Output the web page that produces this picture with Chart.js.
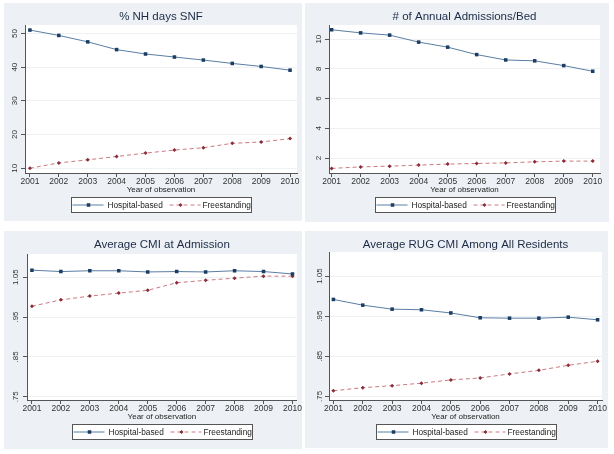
<!DOCTYPE html>
<html>
<head>
<meta charset="utf-8">
<script src="https://cdn.jsdelivr.net/npm/chart.js@4.4.0/dist/chart.umd.min.js"></script>
<style>
  body { margin: 0; background: #fff; width: 614px; height: 454px; position: relative; overflow: hidden; }
  .panel { position: absolute; background: #edf1f5; }
  .panel canvas { display: block; }
</style>
</head>
<body>
<div class="panel" id="p1"><canvas id="c1"></canvas></div>
<div class="panel" id="p2"><canvas id="c2"></canvas></div>
<div class="panel" id="p3"><canvas id="c3"></canvas></div>
<div class="panel" id="p4"><canvas id="c4"></canvas></div>
<script>
// data
const years = [2001, 2002, 2003, 2004, 2005, 2006, 2007, 2008, 2009, 2010];

const snfHosp = [51.0, 49.4, 47.5, 45.2, 43.9, 43.0, 42.1, 41.1, 40.2, 39.1];
const snfFree = [10.0, 11.6, 12.5, 13.5, 14.5, 15.4, 16.1, 17.4, 17.8, 18.8];

const admHosp = [10.63, 10.42, 10.27, 9.80, 9.46, 8.96, 8.60, 8.54, 8.22, 7.84];
const admFree = [1.31, 1.41, 1.46, 1.53, 1.60, 1.64, 1.68, 1.75, 1.80, 1.80];

const cmiHosp = [1.0675, 1.064, 1.066, 1.066, 1.063, 1.064, 1.063, 1.066, 1.064, 1.058];
const cmiFree = [0.977, 0.993, 1.0025, 1.010, 1.017, 1.036, 1.042, 1.0475, 1.0525, 1.0525];

const rugHosp = [0.9917, 0.9775, 0.9675, 0.966, 0.958, 0.946, 0.945, 0.945, 0.9475, 0.941];
const rugFree = [0.764, 0.7717, 0.7767, 0.783, 0.791, 0.796, 0.806, 0.815, 0.8275, 0.8375];

const snfTicks = [10, 20, 30, 40, 50];
const admTicks = [2, 4, 6, 8, 10];
const cmiTicks = [0.75, 0.85, 0.95, 1.05];
const cmiTickLabels = ['.75', '.85', '.95', '1.05'];

const seriesNames = ['Hospital-based', 'Freestanding'];
const xTitle = 'Year of observation';

// styles
const FONT = '"Liberation Sans", Arial, sans-serif';
const HOSP_LINE = '#5a7ea3', HOSP_MARK = '#1b3d63';
const FREE_LINE = '#cc7a80', FREE_MARK = '#8a2c38';
const AXIS = '#555';

// plugin: white plot region, title and the boxed Stata-like legend
const stataPlugin = {
  id: 'stata',
  beforeDraw(chart) {
    const { ctx, chartArea: a } = chart;
    ctx.save();
    ctx.fillStyle = '#fff';
    ctx.fillRect(a.left, a.top, a.right - a.left, a.bottom - a.top);
    ctx.restore();
  },
  afterDraw(chart, args, opts) {
    const { ctx, chartArea: a } = chart;
    const cx = (a.left + a.right) / 2;
    ctx.save();
    ctx.font = '11.5px ' + FONT;
    ctx.fillStyle = '#1c2b45';
    ctx.textAlign = 'center';
    ctx.textBaseline = 'middle';
    ctx.fillText(opts.title, cx, opts.titleY);

    const w = 180, h = 15;
    const bx = Math.round(cx - w / 2) + 0.5;
    const by = Math.round(a.bottom + 24) + 0.5;
    ctx.fillStyle = '#fff';
    ctx.fillRect(bx, by, w, h);
    ctx.strokeStyle = AXIS;
    ctx.lineWidth = 1;
    ctx.strokeRect(bx, by, w, h);

    const my = by + h / 2;
    const slots = [[1, 32, 17, 36], [98, 129, 109, 131]];
    chart.data.datasets.forEach((ds, i) => {
      const [l0, l1, m, t] = slots[i];
      ctx.beginPath();
      ctx.strokeStyle = ds.borderColor;
      ctx.setLineDash(ds.borderDash || []);
      ctx.moveTo(bx + l0, my);
      ctx.lineTo(bx + l1, my);
      ctx.stroke();
      ctx.setLineDash([]);
      ctx.fillStyle = ds.pointBackgroundColor;
      Chart.helpers.drawPoint(ctx, { pointStyle: ds.pointStyle, radius: ds.pointRadius, rotation: 0, borderWidth: 0 }, bx + m, my);
      ctx.fillStyle = '#222';
      ctx.font = '8.3px ' + FONT;
      ctx.textAlign = 'left';
      ctx.fillText(ds.label, bx + t, my + 0.5);
    });
    ctx.restore();
  }
};

function makeChart(id, title, hosp, free, ticks, tickLabels, yMin, yMax, xMin, xMax, box, plot, yPad) {
  const panel = document.getElementById('p' + id);
  panel.style.left = box.x + 'px';
  panel.style.top = box.y + 'px';
  panel.style.width = box.w + 'px';
  panel.style.height = box.h + 'px';
  const canvas = document.getElementById('c' + id);
  canvas.width = box.w;
  canvas.height = box.h;

  const xAxisH = 22;
  const yAxisW = plot.l - box.x;

  return new Chart(canvas, {
    type: 'line',
    data: {
      datasets: [
        {
          label: seriesNames[0],
          data: years.map((y, i) => ({ x: y, y: hosp[i] })),
          borderColor: HOSP_LINE,
          borderWidth: 1,
          pointStyle: 'rect',
          pointRadius: 2.5,
          pointBackgroundColor: HOSP_MARK,
          pointBorderWidth: 0,
          tension: 0
        },
        {
          label: seriesNames[1],
          data: years.map((y, i) => ({ x: y, y: free[i] })),
          borderColor: FREE_LINE,
          borderWidth: 1,
          borderDash: [4, 3],
          pointStyle: 'rectRot',
          pointRadius: 2,
          pointBackgroundColor: FREE_MARK,
          pointBorderWidth: 0,
          tension: 0
        }
      ]
    },
    options: {
      responsive: false,
      animation: false,
      devicePixelRatio: 1,
      layout: {
        padding: {
          left: 0,
          top: plot.t - box.y,
          right: box.x + box.w - plot.r,
          bottom: box.y + box.h - plot.b - xAxisH
        }
      },
      plugins: {
        legend: { display: false },
        tooltip: { enabled: false },
        stata: { title: title, titleY: 14 }
      },
      scales: {
        x: {
          type: 'linear',
          min: xMin,
          max: xMax,
          afterBuildTicks: s => { s.ticks = years.map(v => ({ value: v })); },
          afterFit: s => { s.height = xAxisH; },
          grid: { drawOnChartArea: false, drawTicks: true, tickLength: 4, tickColor: AXIS },
          border: { color: AXIS },
          ticks: { font: { family: FONT, size: 8.5 }, color: '#333', padding: 0, maxRotation: 0, autoSkip: false, callback: v => String(v) },
          title: { display: true, text: xTitle, font: { family: FONT, size: 8 }, color: '#222', padding: 0 }
        },
        y: {
          min: yMin,
          max: yMax,
          afterBuildTicks: s => { s.ticks = ticks.map(v => ({ value: v })); },
          afterFit: s => { s.width = yAxisW; },
          grid: { color: '#eef2f5', tickLength: 4, tickColor: AXIS },
          border: { color: AXIS },
          ticks: {
            font: { family: FONT, size: 8 },
            color: '#333',
            minRotation: 90,
            maxRotation: 90,
            crossAlign: 'center',
            padding: yPad,
            callback: (v, i) => tickLabels[i]
          }
        }
      }
    },
    plugins: [stataPlugin]
  });
}

makeChart(1, '% NH days SNF', snfHosp, snfFree, snfTicks, snfTicks.map(String), 8.6, 52.5, 2000.83, 2010.24,
  { x: 4, y: 3, w: 298, h: 218 }, { l: 25, t: 25, r: 297, b: 173 }, 1.5);
makeChart(2, '# of Annual Admissions/Bed', admHosp, admFree, admTicks, admTicks.map(String), 1.0, 10.95, 2000.91, 2010.25,
  { x: 305, y: 3, w: 304, h: 219 }, { l: 329, t: 25, r: 600, b: 173 }, 1.5);
makeChart(3, 'Average CMI at Admission', cmiHosp, cmiFree, cmiTicks, cmiTickLabels, 0.742, 1.108, 2000.83, 2010.15,
  { x: 4, y: 231, w: 298, h: 218 }, { l: 27, t: 254, r: 298, b: 400 }, -0.5);
makeChart(4, 'Average RUG CMI Among All Residents', rugHosp, rugFree, cmiTicks, cmiTickLabels, 0.741, 1.11, 2000.85, 2010.15,
  { x: 305, y: 231, w: 303, h: 217 }, { l: 329, t: 252, r: 602, b: 400 }, -2.5);
</script>
</body>
</html>
